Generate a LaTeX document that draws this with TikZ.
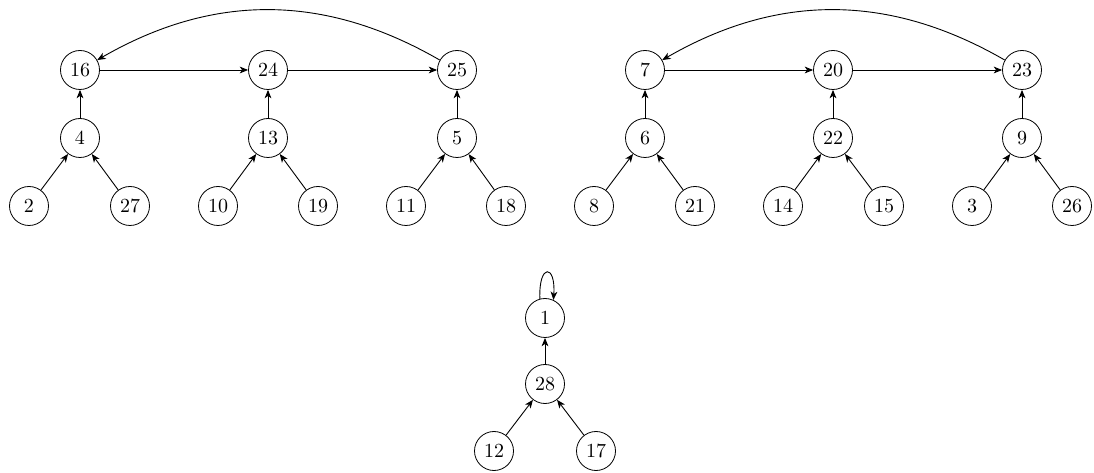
\documentclass[tikz,border=0pt]{standalone}
\usetikzlibrary{arrows.meta}
\begin{document}
\begin{tikzpicture}[x=0.5pt,y=0.5pt,
  vtx/.style={circle,draw,minimum size=19.5pt,inner sep=0pt,font=\fontsize{10}{12}\selectfont},
  edge/.style={-{Stealth[length=4.2pt,width=3.4pt,inset=1.2pt]},line width=0.45pt}]
\useasboundingbox (0,0) rectangle (1094,472);
% left tree group
\node[vtx] (n16) at (80,402) {16};
\node[vtx] (n24) at (268,402) {24};
\node[vtx] (n25) at (457,402) {25};
\node[vtx] (n4) at (80,334) {4};
\node[vtx] (n13) at (268,334) {13};
\node[vtx] (n5) at (457,334) {5};
\node[vtx] (n2) at (29,266) {2};
\node[vtx] (n27) at (130,266) {27};
\node[vtx] (n10) at (218,266) {10};
\node[vtx] (n19) at (318,266) {19};
\node[vtx] (n11) at (406,266) {11};
\node[vtx] (n18) at (506,266) {18};
% right tree group
\node[vtx] (n7) at (645,402) {7};
\node[vtx] (n20) at (833,402) {20};
\node[vtx] (n23) at (1022,402) {23};
\node[vtx] (n6) at (645,334) {6};
\node[vtx] (n22) at (833,334) {22};
\node[vtx] (n9) at (1022,334) {9};
\node[vtx] (n8) at (594,266) {8};
\node[vtx] (n21) at (695,266) {21};
\node[vtx] (n14) at (783,266) {14};
\node[vtx] (n15) at (884,266) {15};
\node[vtx] (n3) at (972,266) {3};
\node[vtx] (n26) at (1072,266) {26};
% bottom tree
\node[vtx] (n1) at (545,154) {1};
\node[vtx] (n28) at (545,88) {28};
\node[vtx] (n12) at (494,21) {12};
\node[vtx] (n17) at (596,21) {17};

\draw[edge] (n16) -- (n24);
\draw[edge] (n24) -- (n25);
\draw[edge] (n25) to[bend right=30] (n16);
\draw[edge] (n4) -- (n16);
\draw[edge] (n13) -- (n24);
\draw[edge] (n5) -- (n25);
\draw[edge] (n2) -- (n4);
\draw[edge] (n27) -- (n4);
\draw[edge] (n10) -- (n13);
\draw[edge] (n19) -- (n13);
\draw[edge] (n11) -- (n5);
\draw[edge] (n18) -- (n5);

\draw[edge] (n7) -- (n20);
\draw[edge] (n20) -- (n23);
\draw[edge] (n23) to[bend right=30] (n7);
\draw[edge] (n6) -- (n7);
\draw[edge] (n22) -- (n20);
\draw[edge] (n9) -- (n23);
\draw[edge] (n8) -- (n6);
\draw[edge] (n21) -- (n6);
\draw[edge] (n14) -- (n22);
\draw[edge] (n15) -- (n22);
\draw[edge] (n3) -- (n9);
\draw[edge] (n26) -- (n9);

\draw[edge] (n1.105) .. controls +(92:36) and +(86:36) .. (n1.65);
\draw[edge] (n28) -- (n1);
\draw[edge] (n12) -- (n28);
\draw[edge] (n17) -- (n28);
\end{tikzpicture}
\end{document}
